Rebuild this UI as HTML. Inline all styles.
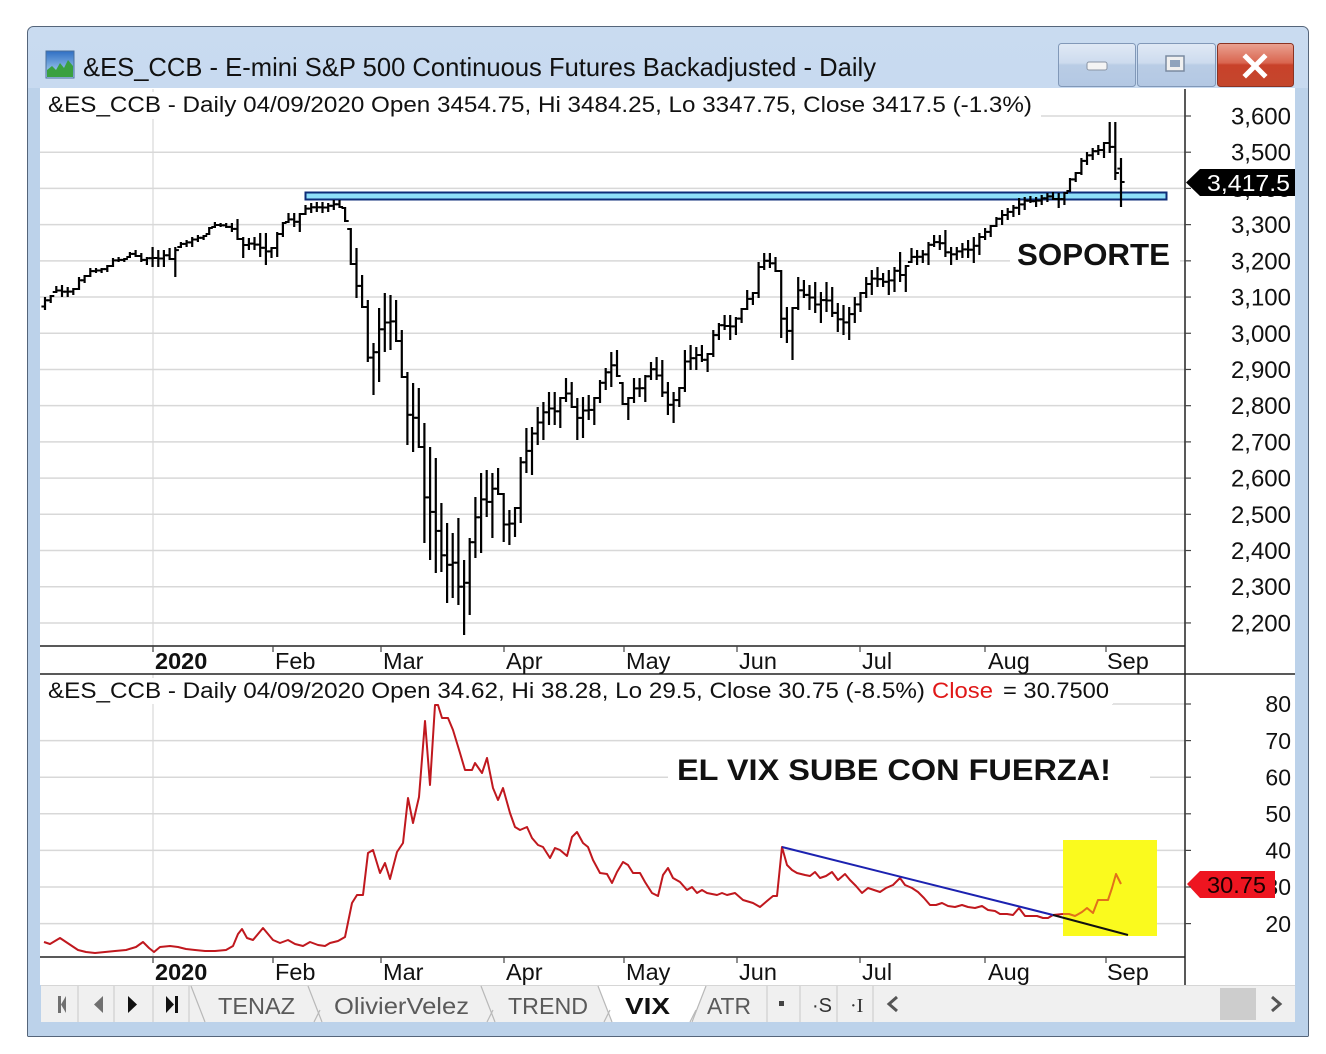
<!DOCTYPE html>
<html><head><meta charset="utf-8">
<style>
html,body{margin:0;padding:0;background:#fff;overflow:hidden;}
svg{display:block;font-family:"Liberation Sans",Arial,sans-serif;}
</style></head>
<body>
<svg id="s" width="1326" height="1054" viewBox="0 0 1326 1054" xmlns="http://www.w3.org/2000/svg">
<defs>
 <linearGradient id="tb" x1="0" y1="0" x2="0" y2="1"><stop offset="0" stop-color="#c9dbf0"/><stop offset="1" stop-color="#b7cde7"/></linearGradient>
 <linearGradient id="bt" x1="0" y1="0" x2="0" y2="1"><stop offset="0" stop-color="#e0e9f5"/><stop offset="0.45" stop-color="#cddbee"/><stop offset="0.5" stop-color="#b9cce5"/><stop offset="1" stop-color="#b3c8e3"/></linearGradient>
 <linearGradient id="cl" x1="0" y1="0" x2="0" y2="1"><stop offset="0" stop-color="#eaa292"/><stop offset="0.45" stop-color="#d9654f"/><stop offset="0.5" stop-color="#c8412a"/><stop offset="1" stop-color="#c4472d"/></linearGradient>
 <linearGradient id="ic" x1="0" y1="0" x2="0" y2="1"><stop offset="0" stop-color="#2f6fc4"/><stop offset="1" stop-color="#b8dcf5"/></linearGradient>
</defs>
<rect width="1326" height="1054" fill="#fff"/>
<!-- window frame -->
<rect x="27.5" y="26.5" width="1281" height="1010" rx="6" fill="url(#tb)" stroke="#55657a"/>
<rect x="28" y="88" width="1280" height="948" fill="#bcd2ea"/>
<line x1="27.5" y1="88" x2="27.5" y2="1036" stroke="#55657a"/>
<line x1="1308.5" y1="88" x2="1308.5" y2="1036" stroke="#55657a"/>
<line x1="27.5" y1="1036.5" x2="1308.5" y2="1036.5" stroke="#55657a"/>
<!-- icon -->
<rect x="46" y="51" width="28" height="27" fill="url(#ic)" stroke="#4a6f9c"/>
<polygon points="47,77 47,70 52,66 56,70 60,63 64,68 68,60 73,66 73,77" fill="#3aa040"/>
<!-- title -->
<text x="83" y="76" font-size="26" fill="#111" textLength="793" lengthAdjust="spacingAndGlyphs">&amp;ES_CCB - E-mini S&amp;P 500 Continuous Futures Backadjusted - Daily</text>
<!-- buttons -->
<rect x="1058.5" y="43.5" width="77" height="43" rx="3" fill="url(#bt)" stroke="#8198b8"/>
<rect x="1087" y="62" width="20" height="8" rx="2" fill="#f4f4f4" stroke="#8a94a4"/>
<rect x="1137.5" y="43.5" width="78" height="43" rx="3" fill="url(#bt)" stroke="#8198b8"/>
<rect x="1166" y="56" width="18" height="15" fill="#f0f0f0" stroke="#7a8aa0" stroke-width="1.5"/>
<rect x="1170" y="60" width="10" height="7" fill="#8fa3bd"/>
<rect x="1217.5" y="43.5" width="76" height="43" rx="3" fill="url(#cl)" stroke="#8b3322"/>
<path d="M1246,57 L1264,75 M1264,57 L1246,75" stroke="#fff" stroke-width="5" stroke-linecap="square"/>

<!-- chart content area -->
<rect x="40" y="88" width="1255" height="897" fill="#fff"/>

<!-- gridlines -->
<g stroke="#d8d8d8" stroke-width="1.5" id="grid"></g>
<line x1="153" y1="89" x2="153" y2="646" stroke="#d8d8d8" stroke-width="1.2"/>
<line x1="153" y1="674" x2="153" y2="957" stroke="#d8d8d8" stroke-width="1.2"/>

<!-- support rect -->
<rect x="305.5" y="192.5" width="861" height="7" fill="#8fe0f8" stroke="#0e2d78" stroke-width="2"/>

<!-- bars -->
<g id="bars" stroke="#000" stroke-width="2.2" stroke-linecap="butt"></g>

<!-- SOPORTE -->
<rect x="1010" y="238" width="170" height="32" fill="#fff"/>
<text x="1017" y="265" font-size="31" font-weight="bold" fill="#111" textLength="153" lengthAdjust="spacingAndGlyphs">SOPORTE</text>

<!-- header texts -->
<rect x="41" y="92" width="1000" height="27" fill="#fff"/>
<text x="48" y="112" font-size="22" fill="#111" textLength="984" lengthAdjust="spacingAndGlyphs">&amp;ES_CCB - Daily 04/09/2020 Open 3454.75, Hi 3484.25, Lo 3347.75, Close 3417.5 (-1.3%)</text>

<!-- axes lines -->
<line x1="1185" y1="89" x2="1185" y2="985" stroke="#222" stroke-width="1.5"/>
<line x1="40" y1="646" x2="1185" y2="646" stroke="#222" stroke-width="1.5"/>
<line x1="40" y1="674" x2="1295" y2="674" stroke="#222" stroke-width="1.5"/>
<line x1="40" y1="957" x2="1185" y2="957" stroke="#222" stroke-width="1.5"/>

<!-- date ticks & labels -->
<g id="dates" font-size="23.5" fill="#111"></g>

<!-- right axis labels -->
<g id="ax" font-size="24" fill="#111" text-anchor="end"></g>

<!-- price label -->
<polygon points="1186,182.5 1200,169 1295,169 1295,196 1200,196" fill="#000"/>
<text x="1207" y="191" font-size="23.5" fill="#fff" textLength="83" lengthAdjust="spacingAndGlyphs">3,417.5</text>

<!-- VIX panel -->
<rect x="41" y="678" width="1072" height="26" fill="#fff"/>
<text x="48" y="698" font-size="22" fill="#111" textLength="877" lengthAdjust="spacingAndGlyphs">&amp;ES_CCB - Daily 04/09/2020 Open 34.62, Hi 38.28, Lo 29.5, Close 30.75 (-8.5%)</text>
<text x="932" y="698" font-size="22" fill="#e01818" textLength="61" lengthAdjust="spacingAndGlyphs">Close</text>
<text x="1003" y="698" font-size="22" fill="#111" textLength="106" lengthAdjust="spacingAndGlyphs">= 30.7500</text>

<rect x="668" y="754" width="482" height="32" fill="#fff"/>
<text x="677" y="780" font-size="30" font-weight="bold" fill="#111" textLength="434" lengthAdjust="spacingAndGlyphs">EL VIX SUBE CON FUERZA!</text>

<rect x="1063" y="840" width="94" height="96" fill="#fafa1e"/>

<polyline fill="none" stroke="#c0181e" stroke-width="2" stroke-linejoin="round" points="44,942 50,944 55,941 60,938 66,942 72,946 78,950 86,952 95,953 105,952 115,951 126,950 136,947 143,942 149,948 154,952 160,947 170,946 178,947 186,949 195,950 205,951 215,951 226,950 233,946 238,934 242,929 247,938 253,940 258,934 263,928 268,934 273,940 280,943 288,940 295,944 303,946 310,942 318,945 325,946 330,943 338,941 345,937 352,903 357,895 363,895 368,853 373,850 380,873 385,863 390,879 397,852 403,843 408,798 413,823 419,797 425,721 430,785 435,705 438,705 442,718 448,718 453,730 460,753 465,770 472,770 475,763 482,773 487,758 493,788 498,800 503,788 510,813 515,827 520,830 527,827 532,838 538,845 543,847 550,858 555,848 560,850 567,856 572,837 577,832 583,843 588,847 593,860 600,873 607,874 612,883 617,872 623,862 628,865 633,873 640,873 645,882 652,893 658,896 663,875 668,868 673,878 680,882 687,890 692,887 697,893 702,890 707,893 717,895 722,893 727,895 735,893 743,900 753,903 760,907 767,901 773,896 777,896 782,847 787,865 792,870 797,873 805,875 810,876 815,872 820,878 826,876 832,872 838,880 845,874 850,880 856,886 862,893 868,888 874,890 880,892 886,888 893,885 900,878 905,885 912,888 918,892 924,898 930,905 936,905 942,903 948,906 955,907 962,905 968,907 975,908 982,906 988,910 995,911 1000,914 1007,914 1013,915 1019,908 1025,916 1031,916 1037,916 1043,918 1048,918 1053,915 1063,914"/>
<polyline fill="none" stroke="#e2701a" stroke-width="2" stroke-linejoin="round" points="1063,914 1069,914 1075,916 1082,912 1087,908 1093,913 1098,900 1108,900 1112,888 1116,874 1121,884"/>
<line x1="782" y1="847" x2="1053" y2="915" stroke="#1c22b0" stroke-width="2"/>
<line x1="1053" y1="915" x2="1128" y2="935" stroke="#111" stroke-width="2"/>

<g id="vax" font-size="23" fill="#111" text-anchor="end"></g>
<polygon points="1187,884 1200,871 1275,871 1275,898 1200,898" fill="#ee1520"/>
<text x="1207" y="893" font-size="23" fill="#1a0000" textLength="59" lengthAdjust="spacingAndGlyphs">30.75</text>

<!-- tab bar -->
<rect x="41" y="985" width="1254" height="37" fill="#f0f0f0"/>
<line x1="41" y1="985.5" x2="1295" y2="985.5" stroke="#d6d6d6"/>
<g stroke="#cfcfcf" stroke-width="1.2">
 <line x1="78" y1="986" x2="78" y2="1022"/><line x1="114" y1="986" x2="114" y2="1022"/>
 <line x1="153" y1="986" x2="153" y2="1022"/><line x1="189" y1="986" x2="189" y2="1022"/>
 <line x1="767" y1="986" x2="767" y2="1022"/><line x1="800" y1="986" x2="800" y2="1022"/>
 <line x1="837" y1="986" x2="837" y2="1022"/><line x1="873" y1="986" x2="873" y2="1022"/>
</g>
<rect x="58" y="996" width="3" height="17" fill="#707070"/><polygon points="66,996 61,1004.5 66,1013" fill="#707070"/>
<polygon points="103,996 94,1004.5 103,1013" fill="#707070"/>
<polygon points="128,996 137,1004.5 128,1013" fill="#111"/>
<polygon points="166,996 174,1004.5 166,1013" fill="#111"/><rect x="175" y="996" width="3" height="17" fill="#111"/>
<polygon points="598,986 706,986 692,1022 612,1022" fill="#fff"/>
<g stroke="#b8b8b8" stroke-width="1.2" fill="none">
 <polyline points="191,986 205,1022"/><polyline points="308,986 322,1022"/><polyline points="314,1022 320,1010"/>
 <polyline points="481,986 495,1022"/><polyline points="487,1022 493,1010"/>
 <polyline points="598,986 612,1022"/><polyline points="604,1022 610,1010"/>
 <polyline points="706,986 692,1022"/><polyline points="690,1022 696,1010"/>
</g>
<g font-size="23" fill="#5a5a5a">
 <text x="218" y="1014" textLength="77" lengthAdjust="spacingAndGlyphs">TENAZ</text>
 <text x="334" y="1014" textLength="135" lengthAdjust="spacingAndGlyphs">OlivierVelez</text>
 <text x="508" y="1014" textLength="80" lengthAdjust="spacingAndGlyphs">TREND</text>
 <text x="707" y="1014" textLength="44" lengthAdjust="spacingAndGlyphs">ATR</text>
</g>
<text x="625" y="1014" font-size="23" font-weight="bold" fill="#111" textLength="45" lengthAdjust="spacingAndGlyphs">VIX</text>
<rect x="779" y="1001" width="5" height="5" fill="#444"/>
<text x="812" y="1012" font-size="20" fill="#333">·S</text>
<text x="850" y="1012" font-size="20" fill="#333" font-family="Liberation Serif">·I</text>
<polyline points="897,997 889,1004 897,1011" fill="none" stroke="#555" stroke-width="3"/>
<rect x="1220" y="988" width="36" height="32" fill="#cdcdcd"/>
<polyline points="1272,997 1280,1004 1272,1011" fill="none" stroke="#555" stroke-width="3"/>
</svg>
<script>
(function(){
var NS="http://www.w3.org/2000/svg";
function el(parent,tag,attrs,txt){var e=document.createElementNS(NS,tag);for(var k in attrs)e.setAttribute(k,attrs[k]);if(txt!=null)e.textContent=txt;parent.appendChild(e);return e;}
// gridlines
var grid=document.getElementById('grid');
for(var k=0;k<=14;k++){var y=116+k*36.21;var x1=(k==0)?1040:40;
 if(k==4){el(grid,'line',{x1:40,y1:y,x2:1010,y2:y});el(grid,'line',{x1:1180,y1:y,x2:1185,y2:y});}
 else el(grid,'line',{x1:x1,y1:y,x2:1185,y2:y});}
for(var k=0;k<=6;k++){var y=704+k*36.6;var x1=(k==0)?1112:40;
 if(k==2){el(grid,'line',{x1:40,y1:y,x2:668,y2:y});el(grid,'line',{x1:1150,y1:y,x2:1185,y2:y});}
 else el(grid,'line',{x1:x1,y1:y,x2:1185,y2:y});}
// axis labels
var ax=document.getElementById('ax');
var tk=document.getElementById('s');
for(var k=0;k<=14;k++){var y=116+k*36.21;var v=3600-k*100;var s=String(v);s=s.charAt(0)+','+s.slice(1);
 el(ax,'text',{x:1291,y:(y+8.5).toFixed(1)},s);
 el(tk,'line',{x1:1185,y1:y,x2:1191,y2:y,stroke:'#444','stroke-width':1.2});}
var vax=document.getElementById('vax');
for(var k=0;k<=6;k++){var y=704+k*36.6;var v=80-k*10;
 el(vax,'text',{x:1291,y:(y+8.2).toFixed(1)},String(v));
 el(tk,'line',{x1:1185,y1:y,x2:1191,y2:y,stroke:'#444','stroke-width':1.2});}
// dates
var d=document.getElementById('dates');
var D=[['2020',155,153,1],['Feb',275,273],['Mar',383,381],['Apr',506,504],['May',626,624],['Jun',739,737],['Jul',862,860],['Aug',988,985],['Sep',1107,1106]];
for(var i=0;i<D.length;i++){
 var a={x:D[i][1],y:669};if(D[i][3])a['font-weight']='bold';el(d,'text',a,D[i][0]);
 var b={x:D[i][1],y:980};if(D[i][3])b['font-weight']='bold';el(d,'text',b,D[i][0]);
 el(d,'line',{x1:D[i][2],y1:646,x2:D[i][2],y2:652,stroke:'#444','stroke-width':1.2});
 el(d,'line',{x1:D[i][2],y1:957,x2:D[i][2],y2:963,stroke:'#444','stroke-width':1.2});
}
// bars
var B=[[297,310],[295,303],[286,293],[285,297],[287,297],[288,295],[277,290],[275,283],[268,277],[268,273],[268,273],[265,272],[258,267],[257,262],[258,262],[252,258],[250,257],[253,262],[257,265],[247,267],[250,267],[250,267],[248,260],[247,277],[242,248],[240,247],[237,247],[235,242],[235,240],[227,235],[222,228],[223,227],[223,228],[223,232],[219,240],[237,258],[238,250],[237,250],[233,257],[233,265],[247,258],[232,257],[222,237],[213,223],[213,227],[213,232],[205,215],[203,213],[202,212],[202,213],[203,212],[200,210],[200,208],[207,222],
[228,265],[248,298],[275,308],[300,362],[343,395],[308,382],[293,352],[295,350],[300,342],[330,378],[372,445],[383,452],[388,448],[423,543],[447,560],[458,573],[503,572],[523,603],[533,598],[518,605],[560,635],[538,615],[497,558],[473,553],[470,517],[473,538],[468,495],[493,542],[510,545],[507,537],[457,523],[428,473],[427,475],[407,445],[402,440],[392,425],[392,425],[397,428],[378,402],[382,408],[398,440],[397,438],[395,420],[397,425],[380,403],[368,390],[352,387],[350,377],[382,405],[397,420],[378,403],[378,397],[375,402],[362,380],[357,380],[360,397],[382,415],[392,423],[387,407],[350,392],[345,370],[347,370],[345,362],[353,372],[330,357],[323,340],[315,330],
[315,340],[317,335],[308,323],[290,310],[292,305],[262,298],[253,270],[253,268],[257,272],[270,338],[307,343],[307,360],[277,310],[280,298],[285,310],[282,313],[292,323],[282,312],[287,317],[303,332],[305,335],[307,340],[297,323],[292,312],[277,298],[270,295],[267,287],[273,287],[270,295],[267,292],[252,282],[265,292],[248,263],[250,265],[250,263],[242,265],[235,247],[235,250],[230,257],[247,265],[247,260],[243,258],[240,258],[237,263],[233,255],[228,240],[225,237],[217,227],[210,225],[208,220],[205,217],[198,215],[197,210],[196,203],[197,207],[195,205],[193,202],[192,200],[193,208],[192,205],[178,192],[172,182],[158,175],[152,165],[148,160],[145,155],[142,158],[122,153],[122,180],[158,207]];
var g=document.getElementById('bars');
var n=B.length,dx=(1121-45)/(n-1);
function cl(v,h,l){return Math.min(l-1,Math.max(h+1,v));}
var prev=null;
for(var i=0;i<n;i++){
 var x=45+i*dx,h=B[i][0],l=B[i][1];
 var o=(i==0)?(h+l)/2+3:cl(prev,h,l);
 var c=(i<n-1)?cl((B[i+1][0]+B[i+1][1])/2*0.7+(h+l)/2*0.3,h,l):182;
 if(i==n-1)o=168.6;
 el(g,'line',{x1:x.toFixed(1),y1:h,x2:x.toFixed(1),y2:l});
 el(g,'line',{x1:(x-3.6).toFixed(1),y1:o.toFixed(1),x2:x.toFixed(1),y2:o.toFixed(1),'stroke-width':2});
 el(g,'line',{x1:x.toFixed(1),y1:c.toFixed(1),x2:(x+3.6).toFixed(1),y2:c.toFixed(1),'stroke-width':2});
 prev=c;
}
})();
</script>
</body></html>
